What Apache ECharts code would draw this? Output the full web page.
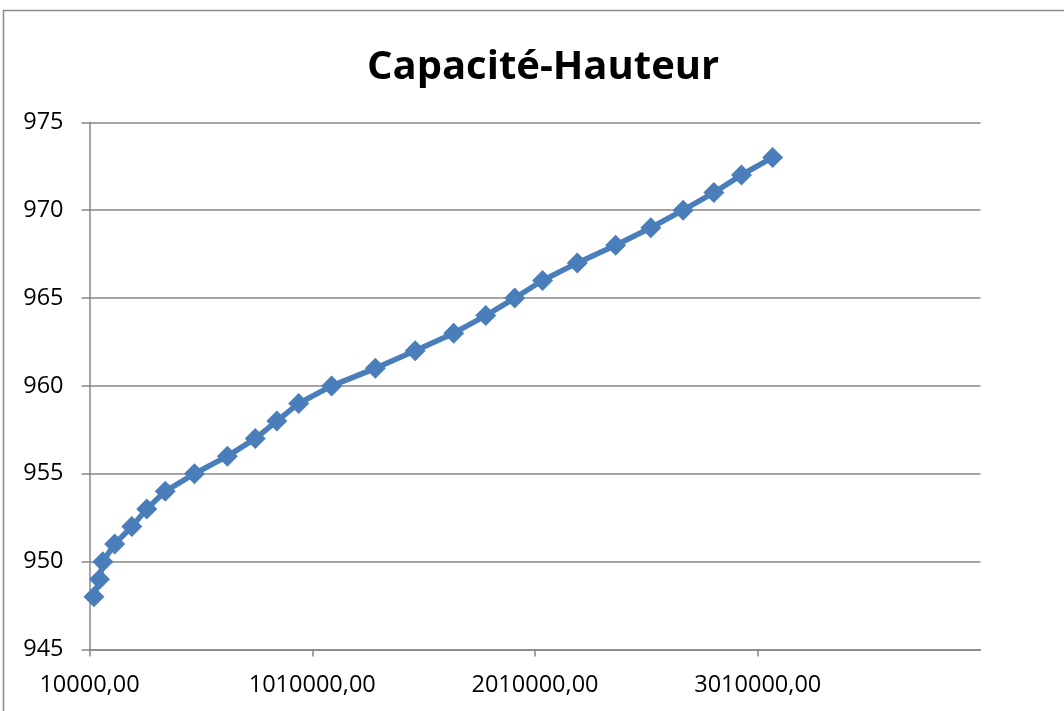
<!DOCTYPE html>
<html>
<head>
<meta charset="utf-8">
<script src="https://cdn.jsdelivr.net/npm/echarts@6/dist/echarts.min.js"></script>
<style>
  html, body { margin: 0; padding: 0; background: #fff; }
  #chart { width: 1064px; height: 711px; }
</style>
</head>
<body>
<div id="chart"></div>
<script>
// Storage capacity (x) against water height (y)
const capacite = [
  30000, 55000, 70000, 123000, 200000, 267000, 350000, 481000, 629000, 754000,
  851000, 949000, 1097000, 1293000, 1472000, 1645000, 1789000, 1919000, 2044000, 2200000,
  2372000, 2530000, 2675000, 2813000, 2937000, 3077000
];
const hauteur = [
  948, 949, 950, 951, 952, 953, 954, 955, 956, 957,
  958, 959, 960, 961, 962, 963, 964, 965, 966, 967,
  968, 969, 970, 971, 972, 973
];
const xTicks = { min: 10000, max: 4010000, step: 1000000 };
const yTicks = { min: 945, max: 975, step: 5 };
const titre = 'Capacité-Hauteur';

const points = capacite.map((c, i) => [c, hauteur[i]]);
const gray = '#878787';
const font = '"Open Sans", "Noto Sans", sans-serif';

const chart = echarts.init(document.getElementById('chart'), null, { renderer: 'canvas' });
chart.setOption({
  animation: false,
  backgroundColor: '#ffffff',
  title: {
    text: titre,
    left: 362,
    top: 43,
    textStyle: { fontFamily: font, fontWeight: 'bold', fontSize: 40, color: '#000' }
  },
  graphic: [{
    type: 'rect',
    shape: { x: 3.5, y: 10.5, width: 1200, height: 900 },
    style: { fill: null, stroke: '#8c8c8c', lineWidth: 1.5 },
    silent: true
  }],
  grid: { left: 89.5, right: 83.5, top: 122.3, bottom: 61.5, containLabel: false },
  xAxis: {
    type: 'value',
    min: xTicks.min,
    max: xTicks.max,
    interval: xTicks.step,
    axisLine: { show: true, lineStyle: { color: gray, width: 1.5 } },
    axisTick: { show: true, inside: false, length: 7, lineStyle: { color: gray, width: 1.5 } },
    splitLine: { show: false },
    axisLabel: {
      showMaxLabel: false,
      margin: 24,
      fontFamily: font,
      fontSize: 23.5,
      color: '#000',
      formatter: v => v.toFixed(2).replace('.', ',')
    }
  },
  yAxis: {
    type: 'value',
    min: yTicks.min,
    max: yTicks.max,
    interval: yTicks.step,
    axisLine: { show: true, lineStyle: { color: gray, width: 1.5 } },
    axisTick: { show: true, inside: false, length: 8, lineStyle: { color: gray, width: 1.5 } },
    splitLine: { show: true, lineStyle: { color: gray, width: 1.5 } },
    axisLabel: {
      margin: 26,
      fontFamily: font,
      fontSize: 23.5,
      color: '#000'
    }
  },
  series: [{
    type: 'line',
    data: points,
    symbol: 'diamond',
    symbolSize: 21,
    lineStyle: { color: '#4a7ebb', width: 5.5 },
    itemStyle: { color: '#4a7ebb' },
    z: 3
  }]
});
</script>
</body>
</html>
